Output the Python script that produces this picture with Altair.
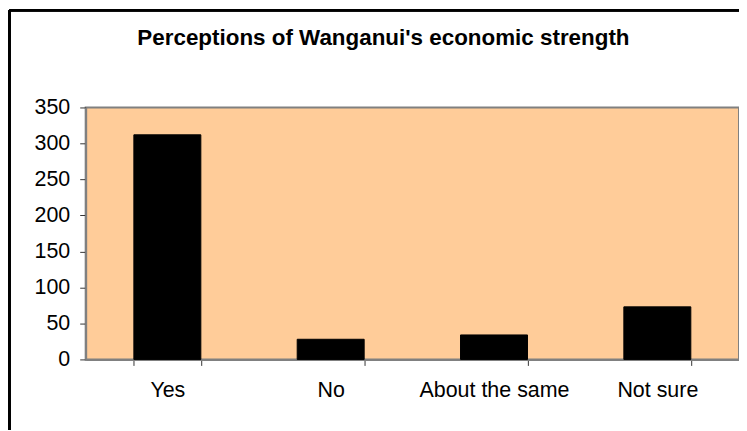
import altair as alt
import pandas as pd

categories = ["Yes", "No", "About the same", "Not sure"]
values = [312, 28, 34, 73]
y_ticks = [0, 50, 100, 150, 200, 250, 300, 350]
title_text = "Perceptions of Wanganui's economic strength"

df = pd.DataFrame({"category": categories, "count": values})
title_df = pd.DataFrame({"t": [title_text]})

FONT = "Liberation Sans"

bars = alt.Chart(df).mark_bar(color="#000000", stroke="#000000", strokeWidth=1).encode(
    x=alt.X(
        "category:N",
        sort=categories,
        scale=alt.Scale(paddingInner=0.59, paddingOuter=0.295),
        axis=alt.Axis(
            title=None,
            labelAngle=0,
            labelFont=FONT,
            labelFontSize=21.5,
            labelColor="#000000",
            labelPadding=14,
            tickBand="extent",
            tickSize=6,
            tickColor="#333333",
            domainColor="#808080",
            domainWidth=2,
        ),
    ),
    y=alt.Y(
        "count:Q",
        scale=alt.Scale(domain=[0, 350], nice=False),
        axis=alt.Axis(
            title=None,
            values=y_ticks,
            grid=False,
            labelFont=FONT,
            labelFontSize=21.5,
            labelColor="#000000",
            labelPadding=10,
            tickSize=6,
            tickColor="#333333",
            domainColor="#808080",
            domainWidth=2,
        ),
    ),
)

title = alt.Chart(title_df).mark_text(
    font=FONT, fontSize=22.5, fontWeight="bold", color="#000000",
    align="center", baseline="alphabetic",
).encode(text="t:N", x=alt.value(299), y=alt.value(-63))

frame_v = alt.Chart(df).mark_rule(color="#000000", strokeWidth=2.5).encode(
    x=alt.value(-76.5), y=alt.value(-97.5), y2=alt.value(400)
)
frame_h = alt.Chart(df).mark_rule(color="#000000", strokeWidth=2.5).encode(
    x=alt.value(-76.5), x2=alt.value(700), y=alt.value(-97.5)
)

chart = alt.layer(bars, title, frame_v, frame_h).properties(
    width=656,
    height=253,
    autosize=alt.AutoSizeParams(type="none"),
    padding={"left": 78, "top": 99, "right": 0, "bottom": 70},
).configure(
    background="#FFFFFF"
).configure_view(
    fill="#FFCC99", stroke="#808080", strokeWidth=2
)

chart.save("out.html", embed_options={"renderer": "svg", "actions": False})
